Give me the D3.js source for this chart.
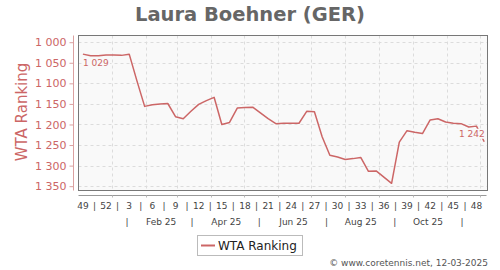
<!DOCTYPE html>
<html><head><meta charset="utf-8">
<script src="https://cdn.jsdelivr.net/npm/d3@7"></script>
<style>body{margin:0;background:#fff}svg{display:block;font-family:"DejaVu Sans",sans-serif}</style>
</head><body><svg id="c" width="500" height="270"></svg>
<script>
const title = "Laura Boehner (GER)";
const seriesName = "WTA Ranking";
const startDate = "2024-12-06";
const ranking = [1029,1033,1033,1031,1031,1032,1029,1094,1156,1152,1150,1149,1181,1186,1168,1151,1142,1134,1200,1195,1160,1159,1158,1172,1186,1198,1197,1197,1197,1168,1169,1230,1275,1279,1285,1283,1280,1314,1313,1328,1343,1243,1215,1219,1222,1189,1186,1194,1197,1198,1206,1204,1242];
const weekLabels = ["49","52","3","6","9","12","15","18","21","24","27","30","33","36","39","42","45","48"];
const monthLabels = ["Feb 25","Apr 25","Jun 25","Aug 25","Oct 25"];
const monthLabelDates = ["2025-02-15","2025-04-15","2025-06-15","2025-08-15","2025-10-15"];
const monthSepDates = ["2025-01-15","2025-03-15","2025-05-15","2025-07-15","2025-09-15","2025-11-15"];
const yTicks = [1000,1050,1100,1150,1200,1250,1300,1350];
const credit = "© www.coretennis.net, 12-03-2025";

const svg = d3.select("#c");
const red = "#cc6666";
const L = 78.5, T = 35.5, R = 487.5, B = 190.5;
const parse = d3.utcParse("%Y-%m-%d");
const d0 = parse(startDate);
const dates = ranking.map((v,i)=>d3.utcDay.offset(d0, 7*i));
const x = d3.scaleUtc().domain([parse("2024-12-02"), parse("2025-12-08")]).range([L, R]);
const y = d3.scaleLinear().domain([983.7, 1360.5]).range([T, B]);
const fmt = d3.formatLocale({decimal:".", thousands:" ", grouping:[3], currency:["",""]}).format(",d");

// title
svg.append("text").attr("x",250).attr("y",21).attr("text-anchor","middle")
  .attr("font-size",19.5).attr("font-weight","bold").attr("fill","#666").text(title);

// plot bg
svg.append("rect").attr("x",L).attr("y",T).attr("width",R-L).attr("height",B-T).attr("fill","#f9f9f9");

// grid
const months = d3.utcMonth.range(parse("2025-01-01"), parse("2025-12-02"));
svg.append("g").selectAll("line").data(months).join("line")
  .attr("x1",d=>Math.round(x(d))+0.5).attr("x2",d=>Math.round(x(d))+0.5).attr("y1",T).attr("y2",B)
  .attr("stroke","#dcdcdc").attr("stroke-dasharray","3,3");
svg.append("g").selectAll("line").data(yTicks).join("line")
  .attr("x1",L).attr("x2",R).attr("y1",d=>Math.round(y(d))+0.5).attr("y2",d=>Math.round(y(d))+0.5)
  .attr("stroke","#dcdcdc").attr("stroke-dasharray","3,3");

// frame
svg.append("rect").attr("x",L).attr("y",T).attr("width",R-L).attr("height",B-T)
  .attr("fill","none").attr("stroke","#777").attr("stroke-width",1);

// y axis
const ya = svg.append("g").attr("transform","translate(73.5,0)")
  .call(d3.axisLeft(y).tickValues(yTicks).tickFormat(fmt).tickSize(4).tickPadding(3));
ya.select(".domain").attr("stroke","#dba0a0").attr("d",`M0,${T}V${B}`);
ya.selectAll(".tick line").attr("stroke","#dba0a0");
ya.selectAll(".tick text").attr("fill",red).attr("font-size",11).attr("font-family","DejaVu Sans");

svg.append("text").attr("transform","translate(27,112) rotate(-90)").attr("text-anchor","middle")
  .attr("font-size",15).attr("fill",red).text(seriesName);

// x axis
const xa = svg.append("g").attr("transform",`translate(0,195.5)`);
xa.append("line").attr("x1",L).attr("x2",R-1).attr("stroke","#999");
xa.selectAll(".mt").data(months).join("line").attr("class","mt")
  .attr("x1",d=>Math.round(x(d))+0.5).attr("x2",d=>Math.round(x(d))+0.5).attr("y1",0).attr("y2",2).attr("stroke","#bbb");
const labDates = weekLabels.map((w,i)=>dates[3*i]);
xa.selectAll(".wl").data(weekLabels).join("text").attr("class","wl")
  .attr("x",(d,i)=>x(labDates[i])).attr("y",13).attr("text-anchor","middle")
  .attr("font-size",9).attr("fill","#444").text(d=>d);
const seps = labDates.slice(1).map((d,i)=>new Date((d.getTime()+labDates[i].getTime())/2));
xa.selectAll(".ws").data(seps).join("text").attr("class","ws")
  .attr("x",d=>x(d)).attr("y",13).attr("text-anchor","middle")
  .attr("font-size",9).attr("fill","#444").text("|");
xa.selectAll(".ml").data(monthLabels).join("text").attr("class","ml")
  .attr("x",(d,i)=>x(parse(monthLabelDates[i]))).attr("y",29).attr("text-anchor","middle")
  .attr("font-size",9).attr("fill","#444").text(d=>d);
xa.selectAll(".ms").data(monthSepDates).join("text").attr("class","ms")
  .attr("x",d=>x(parse(d))).attr("y",29).attr("text-anchor","middle")
  .attr("font-size",9).attr("fill","#444").text("|");

// line
const line = d3.line().x((d,i)=>x(dates[i])).y(d=>y(d));
svg.append("path").datum(ranking).attr("d",line).attr("fill","none")
  .attr("stroke",red).attr("stroke-width",1.5).attr("stroke-linejoin","round");

// value labels
function valLabel(i, anchor, dx, dy){
  const g = svg.append("g");
  const t = g.append("text").attr("x",x(dates[i])+dx).attr("y",y(ranking[i])+dy)
    .attr("text-anchor",anchor).attr("font-size",9).attr("fill",red).text(fmt(ranking[i]));
  const b = t.node().getBBox();
  g.insert("rect","text").attr("x",b.x-1).attr("y",b.y).attr("width",b.width+2).attr("height",b.height)
    .attr("fill","#f9f9f9");
}
valLabel(0,"start",0,12);
valLabel(ranking.length-1,"end",0.5,-5);

// legend
svg.append("rect").attr("x",197.5).attr("y",235.5).attr("width",105).attr("height",20)
  .attr("fill","#fff").attr("stroke","#bbb");
svg.append("line").attr("x1",201).attr("x2",215).attr("y1",245.5).attr("y2",245.5)
  .attr("stroke",red).attr("stroke-width",2);
svg.append("text").attr("x",218).attr("y",250).attr("font-size",12).attr("fill","#222").text(seriesName);

// credit
svg.append("text").attr("x",488).attr("y",266).attr("text-anchor","end")
  .attr("font-size",9).attr("fill","#555").text(credit);
</script></body></html>
